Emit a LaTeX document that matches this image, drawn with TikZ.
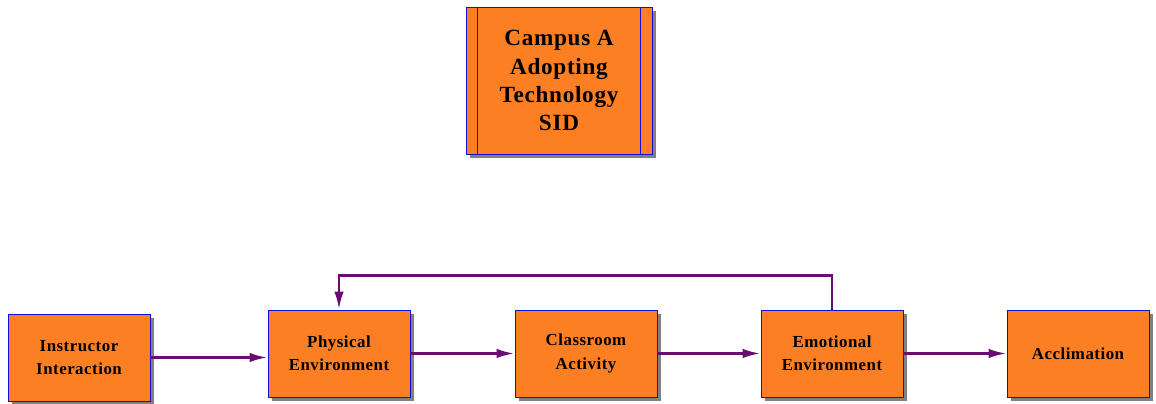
\documentclass[tikz,border=0pt]{standalone}
\usepackage{fontspec}
\setmainfont{Liberation Serif}[LetterSpace=3]
\usepackage{tikz}
\usetikzlibrary{arrows.meta,shadows,positioning}
\definecolor{boxfill}{HTML}{FD7F23}
\definecolor{boxline}{HTML}{1010D0}
\definecolor{flowcol}{HTML}{6B0A72}

\begin{document}
\begin{tikzpicture}[x=0.02cm,y=-0.02cm,
  factor/.style={draw=boxline,line width=0.5pt,fill=boxfill,
    minimum width=2.84cm,minimum height=1.74cm,align=center,
    font=\fontsize{9.6}{13.2}\selectfont\bfseries,
    drop shadow={shadow xshift=0.08cm,shadow yshift=-0.08cm,fill=black!50,opacity=1}},
  flow/.style={draw=flowcol,line width=1.5pt,-{Latex[length=0.36cm,width=0.19cm]}}]
\useasboundingbox (0,0) rectangle (1156,404);
% title box
\node[factor,minimum width=3.72cm,minimum height=2.94cm,
  font=\fontsize{13.2}{16}\selectfont\bfseries] (campus) at (559,80.5)
  {Campus A\\Adopting\\Technology\\SID};
\draw[boxline,line width=0.5pt] ([xshift=0.24cm]campus.north west) -- ([xshift=0.24cm]campus.south west);
\draw[boxline,line width=0.5pt] ([xshift=-0.24cm]campus.north east) -- ([xshift=-0.24cm]campus.south east);
% factors
\node[factor] (instr) at (79,357.5) {Instructor\\Interaction};
\node[factor] (phys) at (339,353.5) {Physical\\Environment};
\node[factor] (class) at (586,353.5) {Classroom\\Activity};
\node[factor] (emot) at (832,353.5) {Emotional\\Environment};
\node[factor] (accl) at (1078,353.5) {Acclimation};
% connectors
\draw[flow] (instr.east) -- (instr.east -| phys.west);
\draw[flow] (phys) -- (class);
\draw[flow] (class) -- (emot);
\draw[flow] (emot) -- (accl);
\draw[flow] (emot.north) -- ++(0,-34) -| (phys.north);
\end{tikzpicture}
\end{document}
